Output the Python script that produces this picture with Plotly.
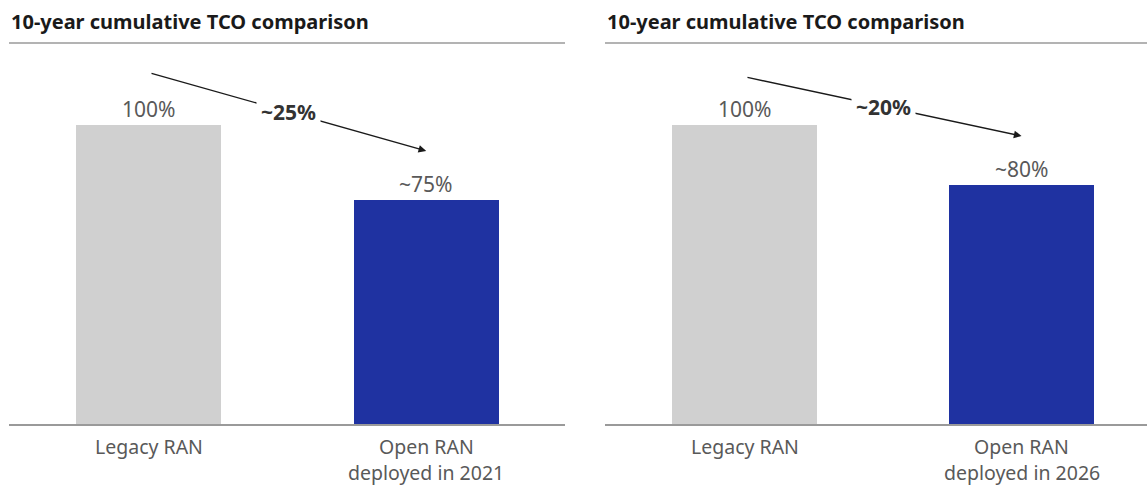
import plotly.graph_objects as go
from plotly.subplots import make_subplots

# Data
panel_titles = ["10-year cumulative TCO comparison", "10-year cumulative TCO comparison"]
categories = ["Legacy RAN", "Open RAN"]
category_sublines = [["", "deployed in 2021"], ["", "deployed in 2026"]]
tco_values = [[100, 75], [100, 80]]
value_labels = [["100%", "~75%"], ["100%", "~80%"]]
savings_labels = ["~25%", "~20%"]

bar_colors = ["#d0d0d0", "#1f32a1"]
W, H = 1147, 485
FONT = "Noto Sans"
TEXT_GRAY = "#595959"

fig = make_subplots(rows=1, cols=2, horizontal_spacing=0.0)

y_bottom = 1 - 424 / H
y_top = 1 - 43 / H
x_domains = [[9 / W, 565 / W], [605 / W, 1.0]]
x_ranges = [[-0.503, 1.5], [-0.504, 1.453]]
y_range = [0, 127.4]

for p in range(2):
    col = p + 1
    fig.add_trace(
        go.Bar(
            x=list(range(len(categories))),
            y=tco_values[p],
            marker=dict(color=bar_colors, line=dict(width=0)),
            width=0.523,
            hoverinfo="skip",
            showlegend=False,
        ),
        row=1, col=col,
    )
    xa = "xaxis" if p == 0 else "xaxis2"
    ya = "yaxis" if p == 0 else "yaxis2"
    xref = "x" if p == 0 else "x2"
    yref = "y" if p == 0 else "y2"

    fig.layout[xa].update(
        domain=x_domains[p], range=x_ranges[p], showticklabels=False,
        showgrid=False, zeroline=False, showline=True,
        linecolor="#9a9a9a", linewidth=2, ticks="",
    )
    fig.layout[ya].update(
        domain=[y_bottom, y_top], range=y_range, visible=False,
        showgrid=False, zeroline=False,
    )

    # rule under the panel title
    fig.add_shape(
        type="line", xref=f"{xref} domain", yref=f"{yref} domain",
        x0=0, x1=1, y0=1, y1=1, line=dict(color="#9a9a9a", width=1.5),
    )

    # panel title
    fig.add_annotation(
        text=f"<b>{panel_titles[p]}</b>", xref="paper", yref="paper",
        x=x_domains[p][0], y=1 - 22 / H, xanchor="left", yanchor="middle",
        showarrow=False, font=dict(family=FONT, size=20, color="#1a1a1a"),
    )

    for i, cat in enumerate(categories):
        # value label above each bar
        fig.add_annotation(
            text=value_labels[p][i], xref=xref, yref=yref,
            x=i, y=tco_values[p][i], yanchor="middle", yshift=16,
            showarrow=False, font=dict(family=FONT, size=21, color=TEXT_GRAY),
        )
        # category label (one annotation per line)
        fig.add_annotation(
            text=cat, xref=xref, yref=yref, x=i, y=0,
            yanchor="middle", yshift=-22, showarrow=False, borderpad=0,
            font=dict(family=FONT, size=19.5, color=TEXT_GRAY),
        )
        if category_sublines[p][i]:
            fig.add_annotation(
                text=category_sublines[p][i], xref=xref, yref=yref, x=i, y=0,
                yanchor="middle", yshift=-48, showarrow=False, borderpad=0,
                font=dict(family=FONT, size=19.5, color=TEXT_GRAY),
            )

    # reduction arrow from legacy to open RAN
    tail_y = [117.4, 116.0][p]
    head_y = [91.3, 96.3][p]
    fig.add_annotation(
        xref=xref, yref=yref, axref=xref, ayref=yref,
        x=1.0, y=head_y, ax=0.005, ay=tail_y, text="",
        showarrow=True, arrowhead=2, arrowsize=1.1, arrowwidth=1.4,
        arrowcolor="#1a1a1a",
    )
    fig.add_annotation(
        text=f"<b>{savings_labels[p]}</b>", xref=xref, yref=yref,
        x=0.503, y=(tail_y + head_y) / 2, showarrow=False,
        bgcolor="white", borderpad=4,
        font=dict(family=FONT, size=21, color="#333333"),
    )

fig.update_layout(
    width=W, height=H, margin=dict(l=0, r=0, t=0, b=0),
    plot_bgcolor="white", paper_bgcolor="white", bargap=0,
    font=dict(family=FONT),
)

fig.write_html("out.html")
